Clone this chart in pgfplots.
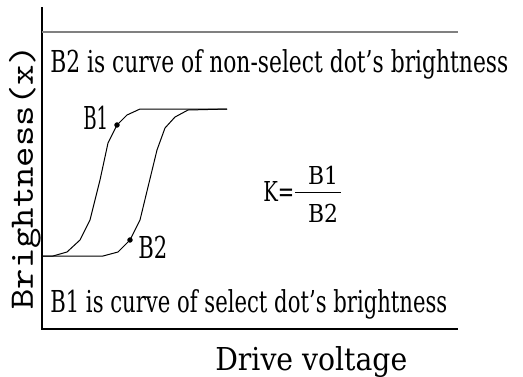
\documentclass[border=0pt]{standalone}
\usepackage{fontspec}
\usepackage{graphicx}
\usepackage{pgfplots}
\pgfplotsset{compat=1.18}
\setmainfont{DejaVu Serif}
\newdimen\px \px=0.75pt
% squeeze text so that it is #2 px wide and its capital B is #3 px high
\newcommand{\sq}[4][]{\resizebox{#2\px}{#3\px}{#1\rule{0pt}{\fontcharht\font`B}\smash{#4}}}

\begin{document}
\begin{tikzpicture}
\begin{axis}[
    scale only axis,
    width=416\px, height=322\px,
    xmin=42, xmax=458, ymin=7, ymax=329,
    y dir=reverse,
    hide axis, clip=false,
]
% frame lines
\draw[black, line width=1.4\px] (axis cs:42,7) -- (axis cs:42,329) -- (axis cs:458,329);
\draw[gray, line width=2\px] (axis cs:42,32) -- (axis cs:458,32);

% B1: select dot
\addplot[black, line width=1\px, mark=none] coordinates {
    (42,256) (53,256) (67,252) (80,240) (90,220) (100,180) (108,143)
    (117,125) (127,115) (140,109) (227,109)
};
% B2: non-select dot
\addplot[black, line width=1\px, mark=none] coordinates {
    (42,256) (103,256) (118,252) (130,240) (140,220) (148,187) (157,150)
    (165,128) (175,117) (188,110) (227,109)
};
\addplot[only marks, mark=*, mark size=2.4\px, black] coordinates {(117,125) (130,240)};

% texts
\node[inner sep=0, anchor=base west] at (axis cs:50,72)
    {\sq{458}{22}{B2 is curve of non-select dot's brightness}};
\node[inner sep=0, anchor=base west] at (axis cs:50,312)
    {\sq{397}{22}{B1 is curve of select dot's brightness}};
\node[inner sep=0, anchor=base west] at (axis cs:215,370)
    {\sq{192}{23}{Drive voltage}};
\node[inner sep=0, anchor=base west] at (axis cs:83,129) {\sq{25}{23}{B1}};
\node[inner sep=0, anchor=base west] at (axis cs:138,258) {\sq{29}{22}{B2}};
\node[inner sep=0, anchor=base west] at (axis cs:263,201) {\sq{31}{20}{K=}};
\draw[black, line width=1\px] (axis cs:295,192) -- (axis cs:341,192);
\node[inner sep=0, anchor=base] at (axis cs:323,184) {\sq{30}{18}{B1}};
\node[inner sep=0, anchor=base] at (axis cs:323,222) {\sq{30}{18}{B2}};
\node[inner sep=0, anchor=base west, rotate=90] at (axis cs:33,310)
    {\sq[\ttfamily]{265}{21}{Brightness(x)}};

\coordinate (tl) at (axis cs:0,0);
\coordinate (br) at (axis cs:523,376);
\end{axis}
\pgfresetboundingbox
\path (tl) rectangle (br);
\end{tikzpicture}
\end{document}
